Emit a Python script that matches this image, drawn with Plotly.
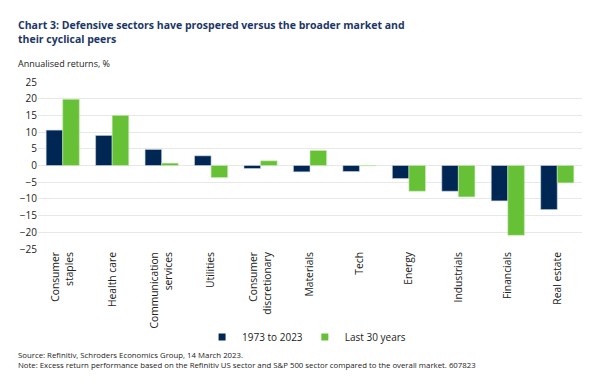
import plotly.graph_objects as go

categories = ["Consumer<br>staples", "Health care", "Communication<br>services", "Utilities",
              "Consumer<br>discretionary", "Materials", "Tech", "Energy", "Industrials",
              "Financials", "Real estate"]
series_1973_2023 = [10.6, 9.0, 4.8, 2.9, -0.9, -1.9, -1.8, -3.9, -7.7, -10.6, -13.2]
series_last30 = [19.8, 15.0, 0.7, -3.6, 1.4, 4.5, -0.1, -7.7, -9.4, -20.9, -5.2]
series_names = ["1973 to 2023", "Last 30 years"]
tick_vals = [25, 20, 15, 10, 5, 0, -5, -10, -15, -20, -25]

NAVY = "#002654"
GREEN = "#66c136"
FONT = "Open Sans"

fig = go.Figure()
fig.add_trace(go.Bar(x=categories, y=series_1973_2023, name=series_names[0], showlegend=False,
                     marker=dict(color=NAVY, line=dict(color="#c9d3e0", width=0.6))))
fig.add_trace(go.Bar(x=categories, y=series_last30, name=series_names[1], showlegend=False,
                     marker=dict(color=GREEN, line=dict(color="#c7ebb5", width=0.6))))
# legend entries with small square swatches, one legend box each
for nm, col, lg in zip(series_names, [NAVY, GREEN], ["legend", "legend2"]):
    fig.add_trace(go.Scatter(x=[None], y=[None], mode="markers", name=nm, legend=lg,
                             marker=dict(symbol="square", size=7, color=col)))

legend_style = dict(orientation="h", xanchor="left", y=-0.527, yanchor="middle",
                    font=dict(size=10, color="#222222"), itemwidth=30,
                    bgcolor="rgba(0,0,0,0)")

fig.update_layout(
    width=602, height=387,
    margin=dict(l=38, r=20, t=82, b=138, autoexpand=False),
    paper_bgcolor="white", plot_bgcolor="white",
    barmode="group", bargap=0.33, bargroupgap=0,
    font=dict(family=FONT, size=10, color="#222222"),
    showlegend=True,
    legend=dict(x=0.3016, **legend_style),
    legend2=dict(x=0.4905, **legend_style),
    xaxis=dict(tickangle=-90, showgrid=False, showline=False, ticks="",
               tickfont=dict(size=10.3, color="#222222")),
    yaxis=dict(range=[-25, 25], tickvals=tick_vals, showgrid=True, gridcolor="#e8e8e8",
               gridwidth=1, zeroline=True, zerolinecolor="#e8e8e8", zerolinewidth=1,
               showline=False, ticks="", tickfont=dict(size=10, color="#222222")),
    annotations=[
        dict(text="<b>Chart 3: Defensive sectors have prospered versus the broader market and<br>their cyclical peers</b>",
             xref="paper", yref="paper", x=-0.04, y=1.0, xanchor="left", yanchor="bottom",
             yshift=34, align="left", showarrow=False,
             font=dict(family=FONT, size=10.5, color="#1b3668")),
        dict(text="Annualised returns, %", xref="paper", yref="paper", x=-0.04, y=1.0,
             xanchor="left", yanchor="bottom", yshift=10, showarrow=False,
             font=dict(family=FONT, size=9, color="#222222")),
        dict(text="Source: Refinitiv, Schroders Economics Group, 14 March 2023.<br>Note: Excess return performance based on the Refinitiv US sector and S&P 500 sector compared to the overall market. 607823",
             xref="paper", yref="paper", x=-0.04, y=0, xanchor="left", yanchor="top",
             yshift=-99, align="left", showarrow=False,
             font=dict(family=FONT, size=7.8, color="#222222")),
    ],
)

fig.write_html("out.html", config={"displayModeBar": False},
               post_script="document.body.style.margin='0px';document.body.style.padding='0px';")
